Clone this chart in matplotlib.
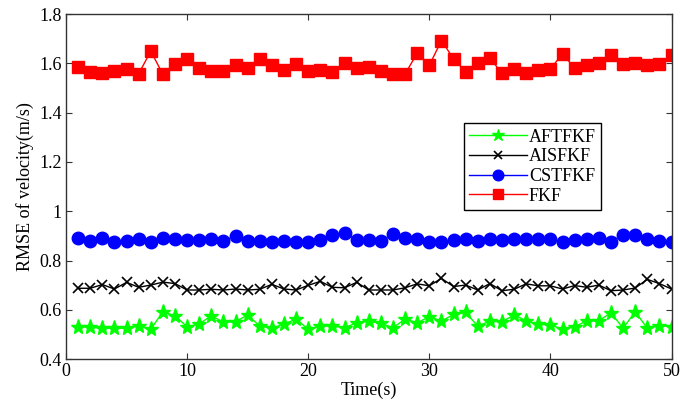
import matplotlib
matplotlib.use("Agg")
import matplotlib.pyplot as plt
import numpy as np

plt.rcParams['font.family'] = ['Liberation Serif', 'DejaVu Serif']

time = list(range(1, 51))

aftfkf = [0.532, 0.530, 0.526, 0.526, 0.526, 0.535, 0.522, 0.593, 0.576, 0.532,
          0.543, 0.577, 0.550, 0.552, 0.580, 0.535, 0.526, 0.543, 0.563, 0.522,
          0.535, 0.535, 0.528, 0.548, 0.555, 0.546, 0.528, 0.563, 0.548, 0.573,
          0.555, 0.582, 0.590, 0.535, 0.555, 0.552, 0.580, 0.556, 0.543, 0.539,
          0.523, 0.532, 0.556, 0.556, 0.589, 0.526, 0.593, 0.526, 0.537, 0.532]

aisfkf = [0.688, 0.688, 0.703, 0.685, 0.712, 0.692, 0.701, 0.713, 0.707, 0.681,
          0.681, 0.684, 0.681, 0.685, 0.681, 0.684, 0.704, 0.685, 0.681, 0.700,
          0.716, 0.692, 0.690, 0.712, 0.681, 0.681, 0.681, 0.690, 0.706, 0.698,
          0.728, 0.695, 0.701, 0.681, 0.707, 0.678, 0.684, 0.706, 0.698, 0.698,
          0.685, 0.699, 0.692, 0.701, 0.678, 0.681, 0.689, 0.724, 0.707, 0.685]

cstfkf = [0.891, 0.881, 0.891, 0.877, 0.881, 0.887, 0.876, 0.893, 0.889, 0.883,
          0.883, 0.889, 0.880, 0.900, 0.880, 0.880, 0.874, 0.880, 0.874, 0.877,
          0.884, 0.905, 0.913, 0.884, 0.884, 0.880, 0.908, 0.893, 0.889, 0.876,
          0.877, 0.883, 0.887, 0.880, 0.889, 0.883, 0.887, 0.887, 0.887, 0.887,
          0.876, 0.884, 0.888, 0.893, 0.877, 0.905, 0.902, 0.888, 0.880, 0.876]

fkf = [1.587, 1.566, 1.562, 1.568, 1.576, 1.558, 1.649, 1.556, 1.596, 1.618,
       1.583, 1.568, 1.568, 1.592, 1.583, 1.617, 1.593, 1.574, 1.599, 1.568,
       1.571, 1.564, 1.601, 1.580, 1.584, 1.569, 1.556, 1.557, 1.641, 1.592,
       1.692, 1.619, 1.565, 1.603, 1.621, 1.560, 1.577, 1.562, 1.574, 1.578,
       1.638, 1.581, 1.592, 1.603, 1.634, 1.597, 1.603, 1.595, 1.596, 1.635]

xticks = [0, 10, 20, 30, 40, 50]
yticks = [0.4, 0.6, 0.8, 1.0, 1.2, 1.4, 1.6, 1.8]
ytick_labels = ['0.4', '0.6', '0.8', '1', '1.2', '1.4', '1.6', '1.8']

fig = plt.figure(figsize=(6.94, 4.12), dpi=100)
ax = fig.add_axes([0.0951, 0.1279, 0.8725, 0.8381])

ax.plot(time, aftfkf, color=(0, 1, 0), lw=1.0, marker='*', ms=11, label='AFTFKF')
ax.plot(time, aisfkf, color='black', lw=1.0, marker='x', ms=7, mew=1.2, label='AISFKF')
ax.plot(time, cstfkf, color=(0, 0, 1), lw=1.0, marker='o', ms=9, label='CSTFKF')
ax.plot(time, fkf, color=(1, 0, 0), lw=1.0, marker='s', ms=8.5, label='FKF')

ax.set_xlim(0, 50)
ax.set_ylim(0.4, 1.8)
ax.set_xticks(xticks)
ax.set_yticks(yticks)
ax.set_yticklabels(ytick_labels)
ax.tick_params(direction='in', top=True, right=True, labelsize=13, length=4,
               color='#333333', pad=3)
for s in ax.spines.values():
    s.set_color('#333333')
    s.set_linewidth(1.0)

ax.set_xlabel('Time(s)', fontsize=13, labelpad=1)
ax.set_ylabel('RMSE of velocity(m/s)', fontsize=13, labelpad=4)

leg = ax.legend(loc='upper left', bbox_to_anchor=(0.657, 0.684), fontsize=13,
                frameon=True, fancybox=False, edgecolor='black', framealpha=1,
                borderpad=0.3, labelspacing=0.15, handlelength=3.2,
                handletextpad=0.1, borderaxespad=0, markerscale=0.85)
leg.get_frame().set_linewidth(1.0)

fig.savefig('out.png', dpi=100)
